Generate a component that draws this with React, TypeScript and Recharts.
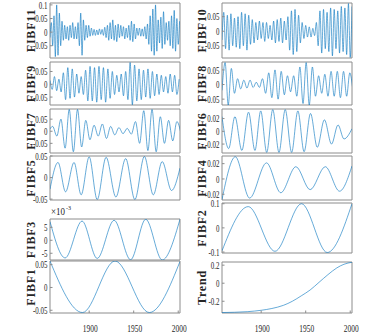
import React from 'react';
import { Line, LineChart, ReferenceArea, XAxis, YAxis } from 'recharts';

const FONT = "'Liberation Serif', 'Times New Roman', serif";
const LINE = '#0072bd';
const BOX = '#8c8c8c';
const TEXT = '#262626';

const yearRange: [number, number] = [1856, 2002];
const yearTicks = [1900, 1950, 2000];

// fast components: turning points, evenly spaced in time
const fibf11Start = 1856;
const fibf11Step = 1.5;
const fibf11 = [
  -0.02, 0.035, -0.05, 0.06, -0.09, 0.1, -0.085, 0.07, -0.05, 0.04,
  -0.03, 0.025, -0.025, 0.02, -0.03, 0.025, -0.02, 0.035, -0.025, 0.02,
  -0.025, 0.035, -0.05, 0.07, -0.085, 0.045, -0.03, 0.025, -0.02, 0.025,
  -0.015, 0.015, -0.012, 0.01, -0.012, 0.008, -0.01, 0.012, -0.008, 0.01,
  -0.012, 0.018, -0.02, 0.025, -0.03, 0.035, -0.025, 0.045, -0.03, 0.025,
  -0.035, 0.03, -0.02, 0.025, -0.015, 0.02, -0.025, 0.015, -0.02, 0.025,
  -0.03, 0.04, -0.035, 0.03, -0.025, 0.015, -0.012, 0.015, -0.015, 0.012,
  -0.015, 0.02, -0.025, 0.03, -0.045, 0.06, -0.07, 0.085, -0.085, 0.1,
  -0.07, 0.045, -0.04, 0.055, -0.06, 0.075, -0.045, 0.035, -0.03, 0.04,
  -0.05, 0.06, -0.06, 0.08, -0.07, 0.05, -0.045, 0.04,
];

const fibf10Start = 1856;
const fibf10Step = 2;
const fibf10 = [
  -0.03, 0.065, -0.06, 0.055, -0.065, 0.06, -0.05, 0.045, -0.055, 0.05,
  -0.06, 0.065, -0.05, 0.06, -0.065, 0.055, -0.045, 0.04, -0.04, 0.03,
  -0.03, 0.035, -0.025, 0.03, -0.035, 0.03, -0.025, 0.02, -0.03, 0.035,
  -0.04, 0.04, -0.035, 0.045, -0.04, 0.035, -0.03, 0.05, -0.065, 0.07,
  -0.08, 0.075, -0.07, 0.055, -0.04, 0.03, -0.025, 0.02, -0.02, 0.015,
  -0.02, 0.01, -0.015, 0.03, -0.05, 0.07, -0.075, 0.075, -0.06, 0.065,
  -0.07, 0.08, -0.085, 0.075, -0.06, 0.07, -0.075, 0.085, -0.07, 0.08,
  -0.08, 0.095, -0.09, 0.085,
];

const fibf9Start = 1856;
const fibf9Step = 2.5;
const fibf9 = [
  0.015, -0.02, 0.03, -0.025, 0.02, -0.03, 0.045, -0.06, 0.065, -0.055,
  0.06, -0.05, 0.04, -0.035, 0.03, -0.04, 0.055, -0.065, 0.07, -0.065,
  0.065, -0.07, 0.07, -0.06, 0.065, -0.07, 0.06, -0.055, 0.05, -0.04,
  0.035, -0.03, 0.04, -0.045, 0.05, -0.06, 0.085, -0.08, 0.075, -0.065,
  0.06, -0.06, 0.055, -0.05, 0.06, -0.055, 0.05, -0.045, 0.04, -0.04,
  0.035, -0.03, 0.03, -0.035, 0.04, -0.03, 0.035, -0.04, 0.02,
];

const fibf8Start = 1856;
const fibf8Step = 3.5;
const fibf8 = [
  -0.02, 0.075, -0.07, 0.055, -0.03, 0.02, -0.015, 0.015, -0.012, 0.015,
  -0.01, 0.008, -0.01, 0.02, -0.03, 0.04, -0.045, 0.05, -0.05, 0.045,
  -0.035, 0.03, -0.025, 0.03, -0.04, 0.06, -0.065, 0.075, -0.07, 0.06,
  -0.04, 0.03, -0.03, 0.035, -0.04, 0.045, -0.04, 0.045, -0.045, 0.045,
  -0.04, 0.04, -0.02,
];

const fibf7Start = 1854.35;
const fibf7Step = 4.65;
const fibf7 = [
  0.0, 0.02, -0.02, 0.05, -0.07, 0.09, -0.085, 0.09, -0.065, 0.045,
  -0.035, 0.025, -0.02, 0.03, -0.03, 0.02, -0.015, 0.015, -0.01, 0.012,
  -0.012, 0.04, -0.05, 0.085, -0.08, 0.09, -0.085, 0.06, -0.05, 0.045,
  -0.04, 0.04, -0.01,
];

// slower components: turning points with their years
const fibf6Years = [1856, 1863.5, 1870.5, 1878.3, 1885.8, 1893, 1899.5, 1906.2, 1913, 1920, 1927, 1934.2, 1941.2, 1948.2, 1955.4, 1963, 1971, 1979, 1986.3, 1993, 2002];
const fibf6 = [0.023, -0.027, 0.023, -0.03, 0.03, -0.03, 0.032, -0.033, 0.034, -0.033, 0.034, -0.033, 0.032, -0.032, 0.028, -0.025, 0.018, -0.02, 0.01, -0.012, 0.004];

const fibf5Years = [1856, 1865, 1873.5, 1883, 1891, 1900, 1909, 1919, 1930, 1941, 1951.3, 1962, 1972, 1982, 1992.5, 2002];
const fibf5 = [-0.027, 0.035, -0.033, 0.035, -0.04, 0.048, -0.051, 0.047, -0.045, 0.044, -0.051, 0.049, -0.04, 0.037, -0.03, 0.022];

const fibf4Years = [1856, 1871, 1887, 1906, 1922, 1939, 1955, 1972, 1988, 2002];
const fibf4 = [-0.027, 0.029, -0.025, 0.021, -0.018, 0.016, -0.014, 0.016, -0.016, 0.017];

// FIBF3 in units of 1e-3
const fibf3Years = [1856, 1873, 1892, 1909, 1928, 1946.5, 1963.5, 1982, 2002];
const fibf3 = [7.2, -6.8, 7.4, -7.0, 7.7, -7.5, 8.1, -7.6, 8.1];

const fibf2Years = [1856, 1885.5, 1915.5, 1945.3, 1974.2, 2002];
const fibf2 = [-0.095, 0.088, -0.097, 0.1, -0.102, 0.1];

const fibf1Years = [1856, 1892.5, 1929, 1967.5, 2002];
const fibf1 = [0.058, -0.055, 0.058, -0.055, 0.057];

const trendYears = [1856, 1870, 1885, 1900, 1912, 1925, 1935, 1945, 1955, 1965, 1975, 1985, 1993, 2002];
const trend = [-0.325, -0.322, -0.315, -0.3, -0.28, -0.245, -0.2, -0.14, -0.075, 0.01, 0.095, 0.17, 0.21, 0.232];

type Row = { t: number; v: number };

function even(start: number, step: number, values: number[]): Row[] {
  return values.map((v, i) => ({ t: start + i * step, v }));
}

function paired(years: number[], values: number[]): Row[] {
  return years.map((t, i) => ({ t, v: values[i] }));
}

type PanelDef = {
  label: string;
  rows: Row[];
  left: number;
  top: number;
  width: number;
  height: number;
  domain: [number, number];
  ticks: number[];
  years?: boolean;
};

const L = 50;
const R = 222;
const W = 130;

const panels: PanelDef[] = [
  { label: 'FIBF11', rows: even(fibf11Start, fibf11Step, fibf11), left: L, top: 3, width: W, height: 55, domain: [-0.095, 0.107], ticks: [-0.05, 0, 0.05, 0.1] },
  { label: 'FIBF10', rows: even(fibf10Start, fibf10Step, fibf10), left: R, top: 3, width: W, height: 55, domain: [-0.092, 0.097], ticks: [-0.05, 0, 0.05] },
  { label: 'FIBF9', rows: even(fibf9Start, fibf9Step, fibf9), left: L, top: 62, width: W, height: 43, domain: [-0.081, 0.087], ticks: [-0.05, 0, 0.05] },
  { label: 'FIBF8', rows: even(fibf8Start, fibf8Step, fibf8), left: R, top: 62, width: W, height: 43, domain: [-0.07, 0.077], ticks: [-0.05, 0, 0.05] },
  { label: 'FIBF7', rows: even(fibf7Start, fibf7Step, fibf7), left: L, top: 109, width: W, height: 44, domain: [-0.09, 0.092], ticks: [-0.05, 0, 0.05] },
  { label: 'FIBF6', rows: paired(fibf6Years, fibf6), left: R, top: 109, width: W, height: 44, domain: [-0.034, 0.035], ticks: [-0.02, 0, 0.02] },
  { label: 'FIBF5', rows: paired(fibf5Years, fibf5), left: L, top: 156, width: W, height: 44, domain: [-0.052, 0.05], ticks: [-0.05, 0, 0.05] },
  { label: 'FIBF4', rows: paired(fibf4Years, fibf4), left: R, top: 156, width: W, height: 44, domain: [-0.0275, 0.03], ticks: [-0.02, 0, 0.02] },
  { label: 'FIBF3', rows: paired(fibf3Years, fibf3), left: L, top: 219, width: W, height: 41, domain: [-7.6, 8.2], ticks: [-5, 0, 5] },
  { label: 'FIBF2', rows: paired(fibf2Years, fibf2), left: R, top: 203, width: W, height: 50, domain: [-0.104, 0.103], ticks: [-0.1, 0, 0.1] },
  { label: 'FIBF1', rows: paired(fibf1Years, fibf1), left: L, top: 261, width: W, height: 52, domain: [-0.056, 0.058], ticks: [-0.05, 0, 0.05], years: true },
  { label: 'Trend', rows: paired(trendYears, trend), left: R, top: 262, width: W, height: 51, domain: [-0.33, 0.235], ticks: [-0.2, 0, 0.2], years: true },
];

const AXIS_W = 40;
const PAD_TOP = 8;
const PAD_RIGHT = 14;
const X_AXIS_H = 22;

// the source figure is squeezed sideways, so tick texts are narrowed to match
const SQUEEZE = 0.66;
function textWidth(s: string, size: number) {
  let w = 0;
  for (const ch of s) {
    if (ch === '.') w += 0.25;
    else if (ch === '-') w += 0.333;
    else w += 0.5;
  }
  return w * size * SQUEEZE;
}

function YearTick({ x, y, payload }: any) {
  const s = String(payload.value);
  return (
    <text x={x + 1} y={y + 7} textAnchor="middle" fontSize={10.5} fill={TEXT} textLength={textWidth(s, 10.5) + 1} lengthAdjust="spacingAndGlyphs">
      {s}
    </text>
  );
}

function ValueTick({ x, y, payload }: any) {
  const s = String(payload.value);
  return (
    <text x={x} y={y} dy="0.35em" textAnchor="end" fontSize={10.5} fill={TEXT} textLength={textWidth(s, 10.5)} lengthAdjust="spacingAndGlyphs">
      {s}
    </text>
  );
}

function Panel({ p }: { p: PanelDef }) {
  return (
    <div style={{ position: 'absolute', left: p.left - AXIS_W, top: p.top - PAD_TOP }}>
      <LineChart
        width={p.width + AXIS_W + PAD_RIGHT}
        height={p.height + PAD_TOP + X_AXIS_H + 2}
        data={p.rows}
        margin={{ top: PAD_TOP, right: PAD_RIGHT, bottom: 2, left: 0 }}
      >
        <XAxis
          dataKey="t"
          type="number"
          domain={yearRange}
          ticks={yearTicks}
          allowDataOverflow
          interval={0}
          height={X_AXIS_H}
          axisLine={false}
          stroke={BOX}
          tickSize={-2.5}
          tickMargin={14}
          tick={p.years ? <YearTick /> : false}
        />
        <YAxis
          type="number"
          domain={p.domain}
          ticks={p.ticks}
          allowDataOverflow
          interval={0}
          width={AXIS_W}
          axisLine={false}
          stroke={BOX}
          tickSize={-2.5}
          tickMargin={5}
          tick={<ValueTick />}
        />
        <ReferenceArea
          x1={yearRange[0]}
          x2={yearRange[1]}
          y1={p.domain[0]}
          y2={p.domain[1]}
          fill="none"
          stroke={BOX}
          strokeWidth={1}
          ifOverflow="visible"
        />
        <Line
          dataKey="v"
          type="monotone"
          dot={false}
          stroke={LINE}
          strokeWidth={0.6}
          isAnimationActive={false}
        />
      </LineChart>
    </div>
  );
}

export default function App() {
  return (
    <div
      style={{
        position: 'absolute',
        left: 0,
        top: 0,
        width: 390,
        height: 332,
        background: '#fff',
        fontFamily: FONT,
        overflow: 'hidden',
      }}
    >
      {panels.map((p) => (
        <Panel key={p.label} p={p} />
      ))}
      <svg width={390} height={332} style={{ position: 'absolute', left: 0, top: 0, pointerEvents: 'none' }}>
        {panels.map((p) => {
          // baseline sits right of the glyphs once the text is turned upright
          const bx = p.left === L ? 35 : 206;
          const cy = p.top + p.height / 2;
          return (
            <text
              key={p.label}
              x={bx}
              y={cy}
              transform={`rotate(-90 ${bx} ${cy})`}
              textAnchor="middle"
              fontSize={12}
              fontWeight="bold"
              letterSpacing={0.8}
              fill={TEXT}
            >
              {p.label}
            </text>
          );
        })}
        <text x={51} y={215} fontSize={10} fill={TEXT} textLength={14} lengthAdjust="spacingAndGlyphs">
          ×10
        </text>
        <text x={66} y={210} fontSize={7} fill={TEXT} textLength={5} lengthAdjust="spacingAndGlyphs">
          -3
        </text>
      </svg>
    </div>
  );
}
